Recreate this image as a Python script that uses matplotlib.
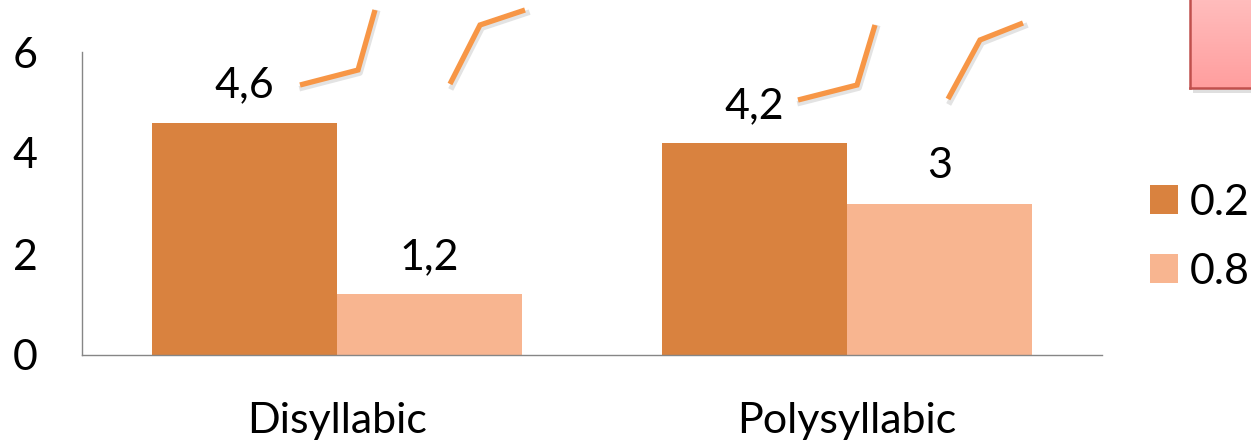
import matplotlib.pyplot as plt
import numpy as np
from matplotlib.patches import Rectangle

# data
categories = ['Disyllabic', 'Polysyllabic']
series_names = ['0.2', '0.8']
vals_02 = [4.6, 4.2]
vals_08 = [1.2, 3.0]
labels_02 = ['4,6', '4,2']
labels_08 = ['1,2', '3']

# decorative pitch contours (figure pixel coords)
contours = [
    [(300, 85), (358, 70), (375, 10)],
    [(450, 84), (480, 25), (525, 10)],
    [(798, 100), (857, 85), (875, 25)],
    [(948, 99), (980, 40), (1023, 23)],
]

c_dark = '#D9823F'
c_light = '#F8B590'
W, H = 1251, 441
FS = 31

plt.rcParams['font.family'] = ['Lato', 'DejaVu Sans']
fig = plt.figure(figsize=(W / 100, H / 100), dpi=100)
ax = fig.add_axes([82 / W, 1 - 355 / H, 1020 / W, 303 / H])

x = np.arange(len(categories))
w = 0.363
b1 = ax.bar(x - w / 2, vals_02, w, color=c_dark, label=series_names[0])
b2 = ax.bar(x + w / 2, vals_08, w, color=c_light, label=series_names[1])

for bars, labs in [(b1, labels_02), (b2, labels_08)]:
    for r, lab in zip(bars, labs):
        ax.annotate(lab, (r.get_x() + r.get_width() / 2, r.get_height()),
                    xytext=(0, 18), textcoords='offset points',
                    ha='center', va='baseline', fontsize=FS)

ax.set_xlim(-0.5, 1.5)
ax.set_ylim(0, 6)
ax.set_yticks([0, 2, 4, 6])
ax.set_xticks(x)
ax.set_xticklabels(categories)
ax.tick_params(length=0, labelsize=FS)
ax.tick_params(axis='y', pad=32)
ax.tick_params(axis='x', pad=34)
for s in ['top', 'right']:
    ax.spines[s].set_visible(False)
for s in ['left', 'bottom']:
    ax.spines[s].set_color('#868686')
    ax.spines[s].set_linewidth(1)

ax.legend(loc='center left', bbox_to_anchor=(1150 / W, 1 - 237 / H),
          bbox_transform=fig.transFigure, frameon=False, fontsize=FS,
          handlelength=0.65, handleheight=0.65, handletextpad=0.28,
          labelspacing=0.72, borderpad=0, borderaxespad=0)

# pitch contour lines
for pts in contours:
    px = np.array([p[0] for p in pts], float)
    py = np.array([p[1] for p in pts], float)
    fig.add_artist(plt.Line2D((px + 2) / W, 1 - (py + 3) / H, color='#909090',
                              lw=4, alpha=0.25, transform=fig.transFigure))
    fig.add_artist(plt.Line2D(px / W, 1 - py / H, color='#F79646', lw=3.8,
                              solid_capstyle='butt', solid_joinstyle='miter',
                              transform=fig.transFigure))

# pink box in top right corner
fig.add_artist(Rectangle((1193 / W, 1 - 93 / H), 80 / W, 110 / H,
                         transform=fig.transFigure, facecolor='#B0B0B0',
                         edgecolor='none', alpha=0.4, zorder=-1))
bx = fig.add_axes([1190 / W, 1 - 88 / H, 80 / W, 110 / H])
bx.set_zorder(2)
grad = np.linspace(0, 1, 100).reshape(-1, 1)
cmap = plt.matplotlib.colors.LinearSegmentedColormap.from_list('pk', ['#FF9E9E', '#FFC4C4'])
bx.imshow(grad, aspect='auto', cmap=cmap, origin='lower', extent=[0, 1, 0, 1])
bx.set_xticks([])
bx.set_yticks([])
for s in bx.spines.values():
    s.set_color('#C0504D')
    s.set_linewidth(1.8)

fig.savefig('out.png', dpi=100)
